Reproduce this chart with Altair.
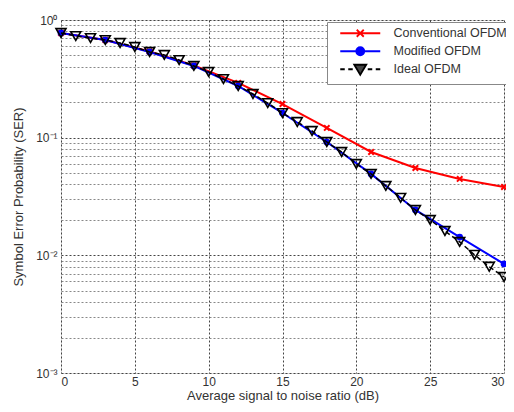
import altair as alt
import pandas as pd

# ---- data ----
snr = list(range(31))
ideal_ser = [0.776, 0.731, 0.703, 0.676, 0.638, 0.590, 0.535, 0.505, 0.457, 0.407,
             0.362, 0.315, 0.275, 0.235, 0.197, 0.162, 0.136, 0.114, 0.0919, 0.0756,
             0.0598, 0.0492, 0.0389, 0.0308, 0.0243, 0.0200, 0.0161, 0.0130, 0.0101,
             0.0080, 0.00655]
snr3 = list(range(0, 31, 3))
conv_ser = [0.776, 0.676, 0.540, 0.410, 0.292, 0.193, 0.121, 0.0756, 0.0553, 0.0446, 0.0381]
mod_ser = [0.776, 0.676, 0.535, 0.407, 0.275, 0.162, 0.0919, 0.0492, 0.0243, 0.0143, 0.00845]

series_names = ["Conventional OFDM", "Modified OFDM", "Ideal OFDM"]
x_ticks = [0, 5, 10, 15, 20, 25, 30]
y_ticks = [round(k * 10 ** e, 6) for e in (-3, -2, -1) for k in range(1, 10)] + [1.0]

FONT = "Liberation Sans"
TXT = "#333333"

df_ideal = pd.DataFrame({"snr": snr, "ser": ideal_ser, "series": "Ideal OFDM"})
df_conv = pd.DataFrame({"snr": snr3, "ser": conv_ser, "series": "Conventional OFDM"})
df_mod = pd.DataFrame({"snr": snr3, "ser": mod_ser, "series": "Modified OFDM"})

label_expr = ("abs(datum.value-1)<1e-9 ? '10⁰' : abs(datum.value-0.1)<1e-9 ? '10⁻¹' : "
              "abs(datum.value-0.01)<1e-9 ? '10⁻²' : abs(datum.value-0.001)<1e-9 ? '10⁻³' : ''")

x_enc = alt.X("snr:Q",
              scale=alt.Scale(domain=[0, 30], nice=False),
              axis=alt.Axis(values=x_ticks, title="Average signal to noise ratio (dB)",
                            grid=True, gridDash=[2, 2], gridColor="#444", gridWidth=1,
                            ticks=False, domain=False, labelFont=FONT, labelFontSize=12,
                            labelColor=TXT, titleFont=FONT, titleFontSize=13,
                            titleFontWeight="normal", titleColor=TXT,
                            labelPadding=3, titlePadding=2))
y_enc = alt.Y("ser:Q",
              scale=alt.Scale(type="log", domain=[0.001, 1], nice=False),
              axis=alt.Axis(values=y_ticks, labelExpr=label_expr, labelOverlap=False,
                            title="Symbol Error Probability (SER)",
                            grid=True, gridDash=[2, 2],
                            gridColor={"condition": {"test": "abs(log(datum.value)/LN10 - round(log(datum.value)/LN10)) < 1e-6",
                                                     "value": "#444"},
                                       "value": "#888"},
                            gridWidth=1, ticks=False, domain=False,
                            labelFont=FONT, labelFontSize=12, labelColor=TXT,
                            titleFont=FONT, titleFontSize=13, titleFontWeight="normal",
                            titleColor=TXT, labelPadding=4, titlePadding=10))

x_mark = "M-1,-1L1,1M-1,1L1,-1"

conv_line = alt.Chart(df_conv).mark_line(color="#ff0000", strokeWidth=2).encode(x=x_enc, y=y_enc)
conv_pts = alt.Chart(df_conv).mark_point(shape=x_mark, filled=False, color="#ff0000",
                                         strokeWidth=2, size=30, opacity=1).encode(x=x_enc, y=y_enc)
mod_line = alt.Chart(df_mod).mark_line(color="#0000ff", strokeWidth=2).encode(x=x_enc, y=y_enc)
mod_pts = alt.Chart(df_mod).mark_point(shape="circle", filled=True, color="#0000ff",
                                       size=45, opacity=1).encode(x=x_enc, y=y_enc)
ideal_line = alt.Chart(df_ideal).mark_line(color="black", strokeWidth=1.5,
                                           strokeDash=[5, 3]).encode(x=x_enc, y=y_enc)
ideal_pts = alt.Chart(df_ideal).mark_point(shape="triangle-down", filled=False, color="black",
                                           strokeWidth=1.6, size=100, opacity=1).encode(x=x_enc, y=y_enc)

# legend symbols: line sample + marker, as custom paths (1 unit = 5 px at symbolSize 100)
legend_paths = [
    "M-4,0H4M-0.7,-0.7L0.7,0.7M-0.7,0.7L0.7,-0.7",
    "M-4,0H4M0.8,0A0.8,0.8 0 1,1 -0.8,0A0.8,0.8 0 1,1 0.8,0Z",
    "M-4,0H-3.1M-2.4,0H-1.5M1.5,0H2.4M3.1,0H4M-1.2,-0.9L1.2,-0.9L0,1.1Z",
]
leg = alt.Legend(title=None, orient="none", legendX=266, legendY=2,
                 fillColor="white", strokeColor="#888", padding=5,
                 symbolSize=100, symbolStrokeWidth=1.8, symbolOpacity=1,
                 symbolOffset=22,
                 labelFont=FONT, labelFontSize=12.5, labelColor=TXT, labelOffset=27,
                 rowPadding=2, cornerRadius=0)
legend_layer = alt.Chart(df_ideal).transform_filter("false").mark_point(filled=False).encode(
    x=x_enc, y=y_enc,
    shape=alt.Shape("series:N", scale=alt.Scale(domain=series_names, range=legend_paths), legend=leg),
    stroke=alt.Stroke("series:N", scale=alt.Scale(domain=series_names, range=["#ff0000", "#0000ff", "black"]), legend=leg),
    fill=alt.Fill("series:N", scale=alt.Scale(domain=series_names, range=["#ff0000", "#0000ff", "#444444"]), legend=leg),
)

chart = alt.layer(conv_line, conv_pts, mod_line, mod_pts, ideal_line, ideal_pts, legend_layer).properties(
    width=443, height=353,
    autosize=alt.AutoSizeParams(type="none"),
    padding={"left": 53, "top": 12, "right": 2, "bottom": 31},
).configure_view(stroke="#999999", strokeWidth=1.5).configure(background="white")

chart.save("out.html", embed_options={"renderer": "svg", "actions": False})
